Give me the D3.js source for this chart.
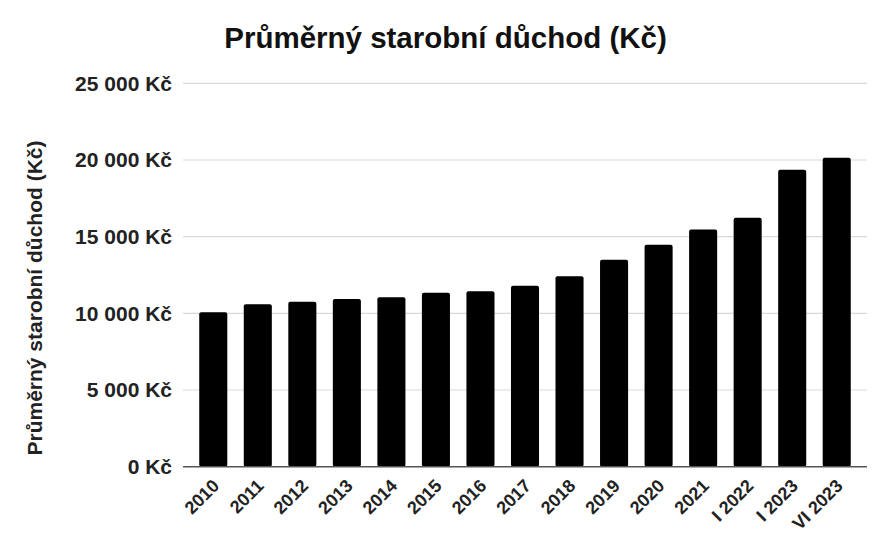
<!DOCTYPE html>
<html>
<head>
<meta charset="utf-8">
<script src="https://cdn.jsdelivr.net/npm/d3@7"></script>
<style>
  body { margin: 0; background: #fff; }
  svg { display: block; font-family: "Liberation Sans", Arial, sans-serif; }
</style>
</head>
<body>
<div id="chart"></div>
<script>
// data
var labels = ["2010", "2011", "2012", "2013", "2014", "2015", "2016", "2017",
              "2018", "2019", "2020", "2021", "I 2022", "I 2023", "VI 2023"];
var values = [10070, 10590, 10760, 10940, 11050, 11350, 11440, 11800,
              12420, 13500, 14480, 15460, 16240, 19370, 20150];
var yTicks = [0, 5000, 10000, 15000, 20000, 25000];

var width = 890, height = 550;

var svg = d3.select("#chart").append("svg")
    .attr("width", width)
    .attr("height", height);

var x = d3.scaleBand()
    .domain(labels)
    .range([191, 859])
    .paddingInner(0.37)
    .paddingOuter(0.185);

var y = d3.scaleLinear()
    .domain([0, 25000])
    .range([466.7, 83.3]);

var fmt = function(d) {
    return d3.format(",")(d).replace(/,/g, " ") + " Kč";
};

// gridlines
svg.append("g")
    .selectAll("line")
    .data(yTicks.slice(1))
    .enter().append("line")
    .attr("x1", 183)
    .attr("x2", 867)
    .attr("y1", function(d) { return y(d); })
    .attr("y2", function(d) { return y(d); })
    .attr("stroke", "#d9d9d9")
    .attr("stroke-width", 1.2);

// y tick labels
svg.append("g")
    .attr("font-size", 21)
    .attr("font-weight", "bold")
    .attr("text-anchor", "end")
    .attr("fill", "#222")
    .selectAll("text")
    .data(yTicks)
    .enter().append("text")
    .attr("x", 172)
    .attr("y", function(d) { return y(d); })
    .attr("dy", "0.35em")
    .text(fmt);

// bars
svg.append("g")
    .selectAll("rect")
    .data(values)
    .enter().append("rect")
    .attr("x", function(d, i) { return x(labels[i]); })
    .attr("width", x.bandwidth())
    .attr("y", function(d) { return y(d); })
    .attr("height", function(d) { return y(0) - y(d); })
    .attr("rx", 2)
    .attr("fill", "#000");

// baseline
svg.append("line")
    .attr("x1", 183)
    .attr("x2", 867)
    .attr("y1", y(0))
    .attr("y2", y(0))
    .attr("stroke", "#555")
    .attr("stroke-width", 1.5);

// x labels
svg.append("g")
    .attr("font-size", 18)
    .attr("font-weight", "bold")
    .attr("text-anchor", "end")
    .attr("fill", "#222")
    .selectAll("text")
    .data(labels)
    .enter().append("text")
    .attr("transform", function(d) {
        return "translate(" + (x(d) + x.bandwidth() / 2 + 7) + ",487) rotate(-45)";
    })
    .text(function(d) { return d; });

// title
svg.append("text")
    .attr("x", 445.5)
    .attr("y", 48)
    .attr("text-anchor", "middle")
    .attr("font-size", 29.5)
    .attr("font-weight", "bold")
    .attr("fill", "#111")
    .text("Průměrný starobní důchod (Kč)");

// y axis title
svg.append("text")
    .attr("transform", "translate(42,298) rotate(-90)")
    .attr("text-anchor", "middle")
    .attr("font-size", 21)
    .attr("font-weight", "bold")
    .attr("fill", "#222")
    .text("Průměrný starobní důchod (Kč)");
</script>
</body>
</html>
